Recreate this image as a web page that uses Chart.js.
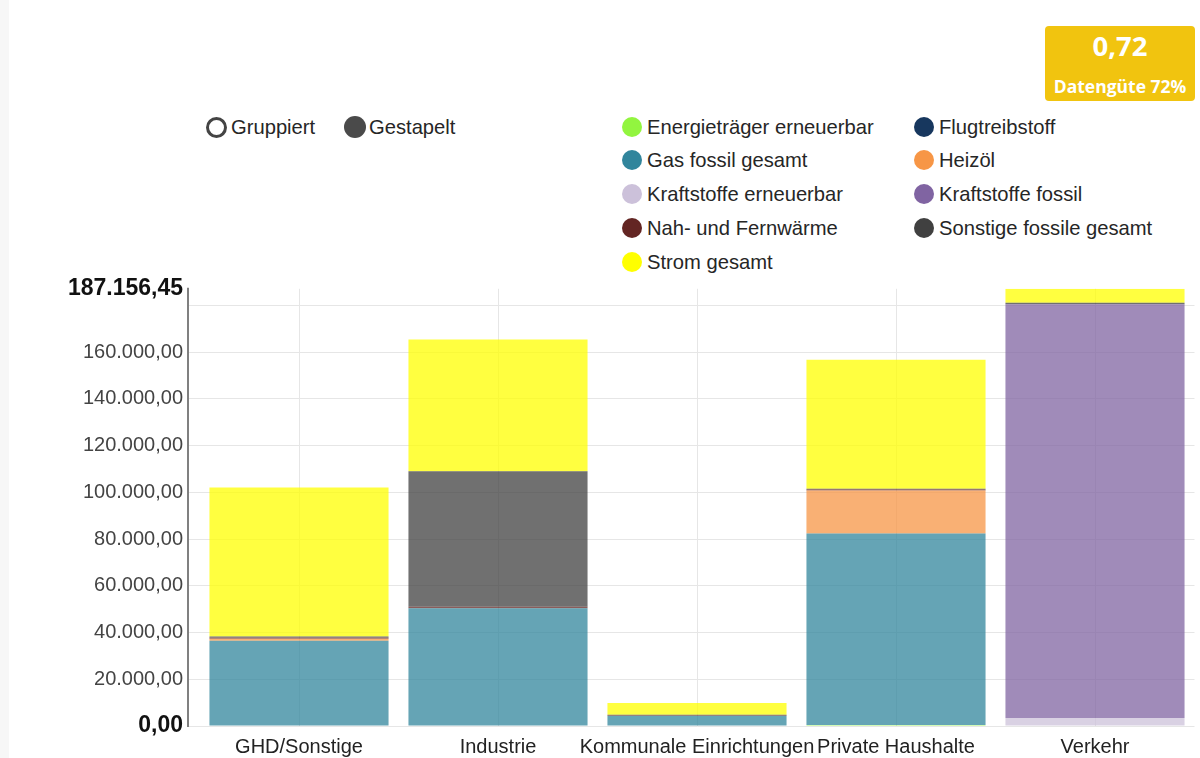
<!DOCTYPE html>
<html lang="de">
<head>
<meta charset="utf-8">
<title>Energieverbrauch nach Sektoren</title>
<script src="https://cdn.jsdelivr.net/npm/chart.js@4.4.1/dist/chart.umd.min.js"></script>
<style>
    body {
        margin: 0;
        width: 1200px;
        height: 758px;
        background: #fff;
        font-family: 'Liberation Sans', Arial, sans-serif;
        position: relative;
        overflow: hidden;
    }
    .rand {
        position: absolute; left: 0; top: 0; width: 9px; height: 758px;
        background: #f7f7f7;
    }
    .badge {
        position: absolute; left: 1045px; top: 26px; width: 150px; height: 75px;
        background: #f1c40f; border-radius: 4px; color: #fff; text-align: center;
        font-family: 'Open Sans', sans-serif; font-weight: bold;
    }
    .badge .wert { position: absolute; left: 0; right: 0; top: 1px; font-size: 27.5px; line-height: 38px; }
    .badge .text { position: absolute; left: 0; right: 0; top: 46px; font-size: 17.5px; line-height: 28px; }
    .modus, .eintrag {
        position: absolute; font-size: 20.2px; color: #262626; line-height: 24px;
        white-space: nowrap; display: flex; align-items: center;
    }
    .punkt { display: inline-block; width: 20px; height: 20px; border-radius: 50%; margin-right: 5px; }
    .ring { display: inline-block; width: 15px; height: 15px; border: 3px solid #444; border-radius: 50%; margin-right: 4px; }
    .voll { display: inline-block; width: 22px; height: 22px; background: #4a4a4a; border-radius: 50%; margin-right: 3px; }
    #wrap { position: absolute; left: 0; top: 270px; width: 1200px; height: 488px; }
</style>
</head>
<body>
<div class="rand"></div>
<div class="badge" id="badge"></div>
<div id="legende"></div>
<div id="wrap"><canvas id="grafik" width="1200" height="488"></canvas></div>

<script>
// Daten
const kategorien = ['GHD/Sonstige', 'Industrie', 'Kommunale Einrichtungen', 'Private Haushalte', 'Verkehr'];

const energietraegerErneuerbar = [0, 0, 0, 400, 0];
const flugtreibstoff = [0, 0, 0, 0, 0];
const gasFossil = [36450, 50400, 4300, 82000, 0];
const heizoel = [950, 0, 0, 18400, 0];
const kraftstoffeErneuerbar = [0, 0, 0, 0, 3450];
const kraftstoffeFossil = [0, 0, 0, 0, 177100];
const nahFernwaerme = [500, 600, 200, 600, 0];
const sonstigeFossil = [450, 58000, 350, 200, 600];
const stromGesamt = [63775, 56400, 4980, 55200, 6006.45];

const serienNamen = ['Energieträger erneuerbar', 'Flugtreibstoff', 'Gas fossil gesamt', 'Heizöl',
    'Kraftstoffe erneuerbar', 'Kraftstoffe fossil', 'Nah- und Fernwärme', 'Sonstige fossile gesamt', 'Strom gesamt'];
const serienFarben = ['#92f53f', '#17375e', '#31859c', '#f79646', '#ccc1da', '#8064a2', '#632523', '#404040', '#ffff00'];
const serienWerte = [energietraegerErneuerbar, flugtreibstoff, gasFossil, heizoel, kraftstoffeErneuerbar,
    kraftstoffeFossil, nahFernwaerme, sonstigeFossil, stromGesamt];

// Achse
const yMax = 187156.45;
const ySchritt = 20000;
const datenguete = 0.72;

function zahl(v) {
    const teile = v.toFixed(2).split('.');
    return teile[0].replace(/\B(?=(\d{3})+(?!\d))/g, '.') + ',' + teile[1];
}

function rgba(hex, a) {
    const n = parseInt(hex.slice(1), 16);
    return 'rgba(' + (n >> 16) + ',' + ((n >> 8) & 255) + ',' + (n & 255) + ',' + a + ')';
}

// Badge oben rechts
document.getElementById('badge').innerHTML =
    '<div class="wert">' + datenguete.toFixed(2).replace('.', ',') + '</div>' +
    '<div class="text">Datengüte ' + Math.round(datenguete * 100) + '%</div>';

// Legende (Modus + Serien in zwei Spalten)
const legende = document.getElementById('legende');
legende.innerHTML =
    '<div class="modus" style="left:206px;top:115px"><span class="ring"></span>Gruppiert</div>' +
    '<div class="modus" style="left:344px;top:115px"><span class="voll"></span>Gestapelt</div>';
const zeilenY = [115, 148, 182, 216, 250];
serienNamen.forEach(function (name, i) {
    const el = document.createElement('div');
    el.className = 'eintrag';
    el.style.left = (i % 2 === 0 ? 622 : 914) + 'px';
    el.style.top = zeilenY[Math.floor(i / 2)] + 'px';
    el.innerHTML = '<span class="punkt" style="background:' + serienFarben[i] + '"></span>' + name;
    legende.appendChild(el);
});

// senkrechte Achsenlinie links, etwas vor der Zeichenfläche
const achsenLinie = {
    id: 'achsenLinie',
    afterDraw: function (chart) {
        const ca = chart.chartArea;
        const ctx = chart.ctx;
        ctx.save();
        ctx.strokeStyle = '#808080';
        ctx.lineWidth = 2;
        ctx.beginPath();
        ctx.moveTo(ca.left - 11.5, ca.top - 1);
        ctx.lineTo(ca.left - 11.5, ca.bottom + 1);
        ctx.stroke();
        ctx.restore();
    }
};

const ctx = document.getElementById('grafik').getContext('2d');

window.grafik = new Chart(ctx, {
    type: 'bar',
    data: {
        labels: kategorien,
        datasets: serienNamen.map(function (name, i) {
            return {
                label: name,
                data: serienWerte[i],
                backgroundColor: rgba(serienFarben[i], 0.75),
                borderWidth: 0,
                barPercentage: 0.9,
                categoryPercentage: 1.0
            };
        })
    },
    options: {
        responsive: false,
        animation: false,
        layout: { padding: { top: 18, right: 5.5, left: 0, bottom: 0 } },
        plugins: {
            legend: { display: false },
            tooltip: { enabled: false }
        },
        scales: {
            x: {
                stacked: true,
                grid: { offset: false, drawTicks: false, color: '#e6e6e6' },
                border: { display: false },
                ticks: {
                    padding: 9,
                    maxRotation: 0,
                    minRotation: 0,
                    autoSkip: false,
                    color: '#222',
                    font: { family: "'Liberation Sans', Arial, sans-serif", size: 20 }
                },
                afterFit: function (scale) { scale.height = 32; }
            },
            y: {
                stacked: true,
                min: 0,
                max: yMax,
                border: { display: false },
                grid: {
                    tickLength: 11.5,
                    color: function (c) {
                        return c.tick && c.tick.value === yMax ? 'rgba(0,0,0,0)' : '#e6e6e6';
                    }
                },
                afterBuildTicks: function (scale) {
                    const t = [];
                    for (let v = 0; v < yMax; v += ySchritt) t.push({ value: v });
                    t.push({ value: yMax });
                    scale.ticks = t;
                },
                afterFit: function (scale) { scale.width = 199.5; },
                ticks: {
                    autoSkip: false,
                    padding: 5,
                    callback: function (v) {
                        if (v !== yMax && yMax - v < ySchritt / 2) return '';
                        return zahl(v);
                    },
                    color: function (c) {
                        return (c.tick.value === yMax || c.tick.value === 0) ? '#111' : '#444';
                    },
                    font: function (c) {
                        const fett = c.tick && (c.tick.value === yMax || c.tick.value === 0);
                        return { family: "'Liberation Sans', Arial, sans-serif", size: fett ? 23 : 20, weight: fett ? 'bold' : 'normal' };
                    }
                }
            }
        }
    },
    plugins: [achsenLinie]
});
</script>
</body>
</html>
